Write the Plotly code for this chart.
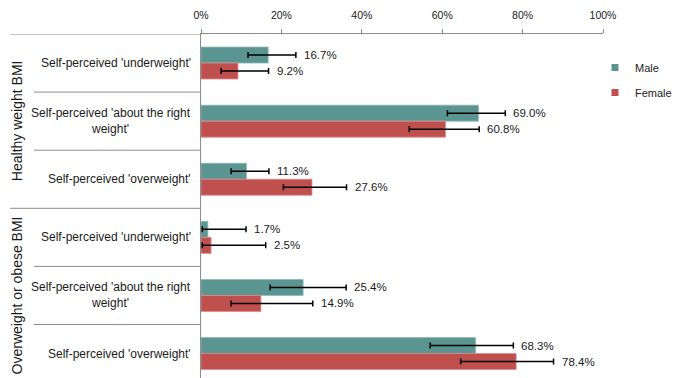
import plotly.graph_objects as go

categories = ["Self-perceived 'underweight'", "Self-perceived 'about the right<br>weight'",
              "Self-perceived 'overweight'",
              "Self-perceived 'underweight'", "Self-perceived 'about the right<br>weight'",
              "Self-perceived 'overweight'"]
groups = ["Healthy weight BMI", "Overweight or obese BMI"]
group_centers = [1, 4]
male = [16.7, 69.0, 11.3, 1.7, 25.4, 68.3]
male_lo = [11.7, 61.3, 7.5, 0.3, 17.2, 57.0]
male_hi = [23.6, 75.7, 16.9, 11.2, 36.1, 77.7]
female = [9.2, 60.8, 27.6, 2.5, 14.9, 78.4]
female_lo = [5.0, 51.8, 20.5, 0.3, 7.5, 64.6]
female_hi = [16.8, 69.2, 36.2, 16.1, 27.8, 87.7]
x_ticks = [0, 20, 40, 60, 80, 100]

W, H = 678, 378
L, R, T, B = 201, 75, 34, 0
PW = W - L - R
PH = H - T - B
BAND = 58.1
Y_TOP = -0.5
Y_BOT = Y_TOP + PH / BAND

MALE_C = "#5A9592"
FEMALE_C = "#C0504D"
LINE_C = "#8C8C8C"
TXT = "#1A1A1A"
FONT = "Liberation Sans, Arial, sans-serif"
BW = 0.275

def xp(px):
    return (px - L) / PW

pos = list(range(len(categories)))

fig = go.Figure()
fig.add_trace(go.Bar(
    y=pos, x=male, orientation="h", name="Male", width=BW, offset=-BW,
    marker=dict(color=MALE_C, line=dict(color="#8FB8B6", width=0.8)),
    error_x=dict(type="data", symmetric=False,
                 array=[h - v for h, v in zip(male_hi, male)],
                 arrayminus=[v - l for l, v in zip(male_lo, male)],
                 color="black", thickness=1.5, width=3),
    showlegend=False))
fig.add_trace(go.Bar(
    y=pos, x=female, orientation="h", name="Female", width=BW, offset=0,
    marker=dict(color=FEMALE_C, line=dict(color="#DA8A88", width=0.8)),
    error_x=dict(type="data", symmetric=False,
                 array=[h - v for h, v in zip(female_hi, female)],
                 arrayminus=[v - l for l, v in zip(female_lo, female)],
                 color="black", thickness=1.5, width=3),
    showlegend=False))
# legend entries
fig.add_trace(go.Scatter(x=[None], y=[None], mode="markers", name="Male", legendgroup="m",
                         marker=dict(symbol="square", size=7, color=MALE_C)))
fig.add_trace(go.Scatter(x=[None], y=[None], mode="markers", name="Female", legendgroup="f",
                         marker=dict(symbol="square", size=7, color=FEMALE_C)))

ann = []
for i in pos:
    ann.append(dict(x=male_hi[i], y=i - BW / 2, xref="x", yref="y", text=f"{male[i]:.1f}%",
                    xanchor="left", yanchor="middle", xshift=6, showarrow=False,
                    font=dict(size=11.5, color=TXT, family=FONT)))
    ann.append(dict(x=female_hi[i], y=i + BW / 2, xref="x", yref="y", text=f"{female[i]:.1f}%",
                    xanchor="left", yanchor="middle", xshift=6, showarrow=False,
                    font=dict(size=11.5, color=TXT, family=FONT)))
    ann.append(dict(x=xp(193), y=i, xref="paper", yref="y", text=categories[i],
                    xanchor="right", yanchor="middle", align="center", showarrow=False,
                    font=dict(size=12, color=TXT, family=FONT)))
for g, c in zip(groups, group_centers):
    ann.append(dict(x=xp(17), y=c, xref="paper", yref="y", text=g, textangle=-90,
                    xanchor="center", yanchor="middle", showarrow=False,
                    font=dict(size=14, color=TXT, family=FONT)))

shapes = []
line = dict(color=LINE_C, width=1)
shapes.append(dict(type="line", xref="paper", yref="y", x0=xp(10), x1=xp(L), y0=Y_TOP, y1=Y_TOP, line=line))
for b in [0.5, 1.5, 3.5, 4.5]:
    shapes.append(dict(type="line", xref="paper", yref="y", x0=xp(34), x1=0, y0=b, y1=b, line=line))
shapes.append(dict(type="line", xref="paper", yref="y", x0=xp(10), x1=0, y0=2.5, y1=2.5, line=line))
for px in (34, L):
    shapes.append(dict(type="line", xref="paper", yref="y", x0=xp(px), x1=xp(px),
                       y0=Y_TOP - 4 / BAND, y1=Y_TOP, line=line))

fig.update_layout(
    width=W, height=H,
    margin=dict(l=L, r=R, t=T, b=B, pad=0, autoexpand=False),
    paper_bgcolor="white", plot_bgcolor="white",
    font=dict(family=FONT, color=TXT),
    barmode="overlay",
    annotations=ann, shapes=shapes,
    legend=dict(x=xp(595), y=(H - 53) / PH, xanchor="left", yanchor="top",
                font=dict(size=11, color=TXT, family=FONT),
                tracegroupgap=6, bgcolor="rgba(0,0,0,0)", itemwidth=30),
    xaxis=dict(side="top", range=[0, 100], tickvals=x_ticks,
               ticktext=[f"{t}%" for t in x_ticks], ticks="outside", ticklen=4,
               tickcolor=LINE_C, showline=True, linecolor=LINE_C, linewidth=1,
               showgrid=False, zeroline=False, ticklabelstandoff=6,
               tickfont=dict(size=10.5, color=TXT, family=FONT), fixedrange=True),
    yaxis=dict(range=[Y_BOT, Y_TOP], showticklabels=False, ticks="",
               showline=True, linecolor=LINE_C, linewidth=1,
               showgrid=False, zeroline=False, fixedrange=True),
)

fig.write_html("out.html")
